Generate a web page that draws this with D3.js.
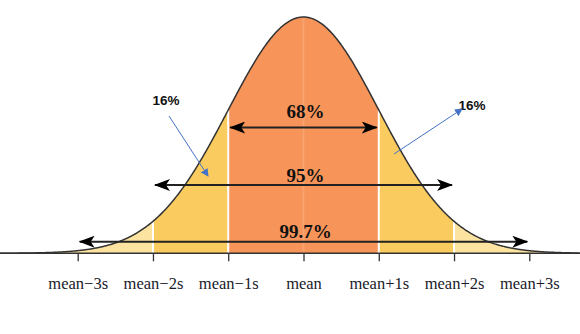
<!DOCTYPE html>
<html>
<head>
<meta charset="utf-8">
<script src="https://cdn.jsdelivr.net/npm/d3@7"></script>
<style>
  html, body { margin: 0; padding: 0; background: #fff; }
  svg { display: block; }
</style>
</head>
<body>
<svg id="chart" width="580" height="334"></svg>
<script>
// ---- data ----
const tickValues = [-3, -2, -1, 0, 1, 2, 3];
const tickLabels = ["mean\u22123s", "mean\u22122s", "mean\u22121s", "mean", "mean+1s", "mean+2s", "mean+3s"];
const rangeSigmas = [1, 2, 3];
const rangeLabels = ["68%", "95%", "99.7%"];
const tailLabels = ["16%", "16%"];
const bandColors = ["#F79459", "#FACC60", "#FCE4A0"];

// ---- layout ----
const W = 580, H = 334;
const baseY = 253.3, peakY = 17;
const svg = d3.select("#chart");

const x = d3.scaleLinear().domain([-3, 3]).range([77.7, 529.3]);
const pdf = z => Math.exp(-z * z / 2) / Math.sqrt(2 * Math.PI);
const y = d3.scaleLinear().domain([0, pdf(0)]).range([baseY, peakY]);

const zMin = x.invert(0), zMax = x.invert(W);
const curvePts = d3.range(zMin, zMax + 0.001, 0.01).map(z => [z, pdf(z)]);

const area = d3.area().x(d => x(d[0])).y0(y(0)).y1(d => y(d[1]));
const line = d3.line().x(d => x(d[0])).y(d => y(d[1]));

const bandDefs = [
  { lo: zMin, hi: zMax, color: bandColors[2] },
  { lo: -2, hi: 2, color: bandColors[1] },
  { lo: -1, hi: 1, color: bandColors[0] }
];
bandDefs.forEach(b => {
  const pts = curvePts.filter(d => d[0] >= b.lo - 1e-9 && d[0] <= b.hi + 1e-9);
  const full = [[b.lo, pdf(b.lo)], ...pts, [b.hi, pdf(b.hi)]];
  svg.append("path").attr("d", area(full)).attr("fill", b.color);
});

[-2, -1, 1, 2].forEach(z => {
  svg.append("line")
    .attr("x1", x(z)).attr("x2", x(z))
    .attr("y1", y(0)).attr("y2", y(pdf(z)))
    .attr("stroke", "#fff").attr("stroke-width", 2);
});
svg.append("line")
  .attr("x1", x(0)).attr("x2", x(0))
  .attr("y1", y(0)).attr("y2", y(pdf(0)))
  .attr("stroke", "#fff").attr("stroke-opacity", 0.14).attr("stroke-width", 2);

svg.append("path").attr("d", line(curvePts))
  .attr("fill", "none").attr("stroke", "#333").attr("stroke-width", 1.5);

const axis = d3.axisBottom(x)
  .tickValues(tickValues)
  .tickFormat((d, i) => tickLabels[i])
  .tickSize(8)
  .tickPadding(16)
  .tickSizeOuter(0);
const gAxis = svg.append("g").attr("transform", `translate(0,${baseY})`).call(axis);
gAxis.select(".domain").remove();
gAxis.selectAll(".tick line").attr("stroke", "#333").attr("stroke-width", 1.3);
gAxis.selectAll(".tick text")
  .attr("font-family", "'Liberation Serif', 'Times New Roman', serif")
  .attr("font-size", 16.5).attr("fill", "#1a1a2a");
svg.append("line")
  .attr("x1", 0).attr("x2", W).attr("y1", baseY).attr("y2", baseY)
  .attr("stroke", "#333").attr("stroke-width", 1.5);

const defs = svg.append("defs");
defs.append("marker")
  .attr("id", "blackHead").attr("viewBox", "0 0 16 12")
  .attr("refX", 15).attr("refY", 6)
  .attr("markerWidth", 16).attr("markerHeight", 12)
  .attr("markerUnits", "userSpaceOnUse")
  .attr("orient", "auto-start-reverse")
  .append("path").attr("d", "M0,0 L16,6 L0,12 L4,6 Z").attr("fill", "#000");
defs.append("marker")
  .attr("id", "blueHead").attr("viewBox", "0 0 8 8")
  .attr("refX", 7).attr("refY", 4)
  .attr("markerWidth", 8).attr("markerHeight", 8)
  .attr("markerUnits", "userSpaceOnUse")
  .attr("orient", "auto")
  .append("path").attr("d", "M0,0 L8,4 L0,8 Z").attr("fill", "#4472C4");

const arrowY = [127.5, 185, 241.7];
const labelY = [118, 182, 237.5];
rangeSigmas.forEach((s, i) => {
  svg.append("line")
    .attr("x1", x(-s) + 2).attr("x2", x(s) - 2)
    .attr("y1", arrowY[i]).attr("y2", arrowY[i])
    .attr("stroke", "#222").attr("stroke-width", 2)
    .attr("marker-start", "url(#blackHead)")
    .attr("marker-end", "url(#blackHead)");
  svg.append("text")
    .attr("x", x(0) + 2).attr("y", labelY[i])
    .attr("text-anchor", "middle")
    .attr("font-family", "'Liberation Serif', 'Times New Roman', serif")
    .attr("font-weight", "bold").attr("font-size", 19)
    .attr("fill", "#111")
    .text(rangeLabels[i]);
});

const tailText = [[166, 104.5], [472, 109.5]];
const tailArrows = [[169, 116, 208, 176], [394, 154, 462, 109]];
tailLabels.forEach((t, i) => {
  svg.append("text")
    .attr("x", tailText[i][0]).attr("y", tailText[i][1])
    .attr("text-anchor", "middle")
    .attr("font-family", "'Liberation Sans', Arial, sans-serif")
    .attr("font-weight", "bold").attr("font-size", 13.5)
    .attr("fill", "#111")
    .text(t);
  const a = tailArrows[i];
  svg.append("line")
    .attr("x1", a[0]).attr("y1", a[1]).attr("x2", a[2]).attr("y2", a[3])
    .attr("stroke", "#4472C4").attr("stroke-width", 1)
    .attr("marker-end", "url(#blueHead)");
});
</script>
</body>
</html>
